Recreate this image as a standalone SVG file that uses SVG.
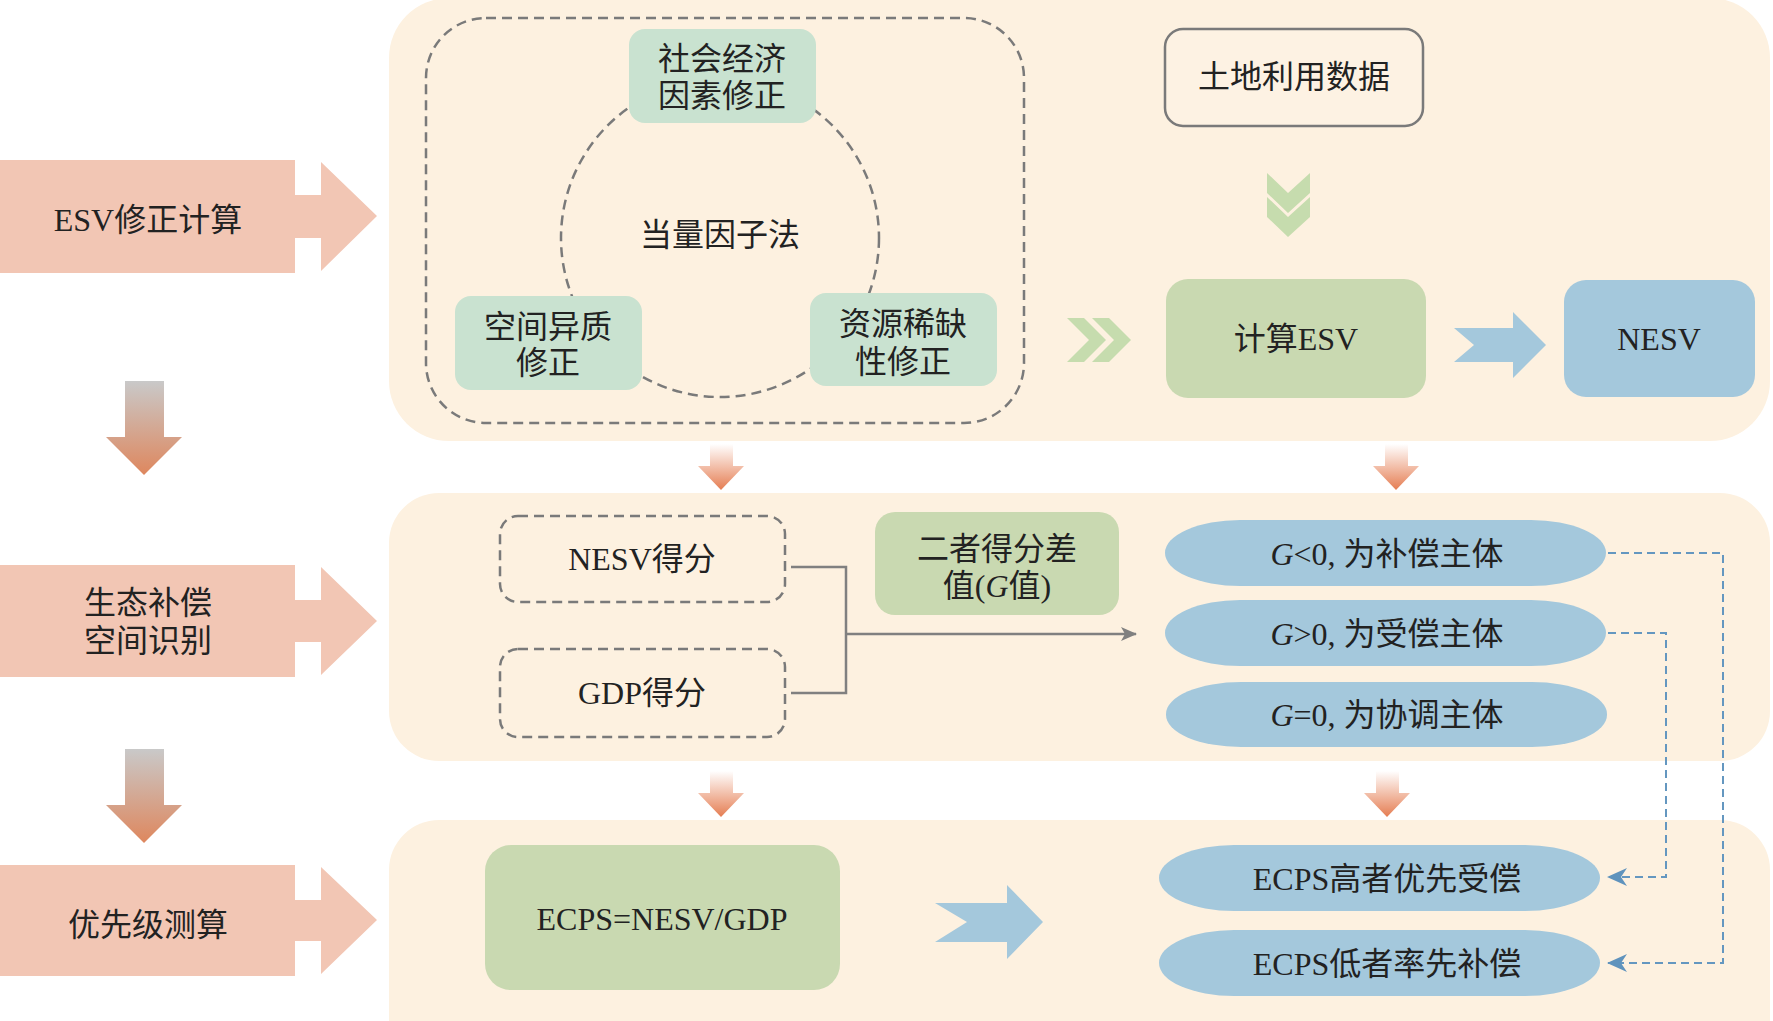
<svg xmlns="http://www.w3.org/2000/svg" width="1773" height="1021" viewBox="0 0 1773 1021">
<style>
text{font-family:"Liberation Serif","Noto Sans CJK SC",serif;font-size:32px;fill:#222;text-anchor:middle}
.panel{fill:#FDF1E0}
.pink{fill:#F2C6B4}
.mint{fill:#C9E2D0}
.sage{fill:#C9D9B1}
.blue{fill:#A4C8DC}
.dash{fill:none;stroke:#7A7A7A;stroke-width:2.5;stroke-dasharray:10 6}
.chev{fill:#C6DCAE}
.gl{fill:none;stroke:#808080;stroke-width:2.5}
.bl{fill:none;stroke:#6497C0;stroke-width:2;stroke-dasharray:8 5}
</style>
<defs>
<linearGradient id="gDown" x1="0" y1="0" x2="0" y2="1">
<stop offset="0" stop-color="#C9C9C9"/>
<stop offset="1" stop-color="#DE875E"/>
</linearGradient>
<linearGradient id="gSmall" x1="0" y1="0" x2="0" y2="1">
<stop offset="0" stop-color="#FFFFFF"/>
<stop offset="1" stop-color="#E57D52"/>
</linearGradient>
<marker id="mGray" viewBox="0 0 16 14" refX="15" refY="7" markerWidth="16" markerHeight="14" markerUnits="userSpaceOnUse" orient="auto">
<path d="M0,0 L16,7 L0,14 L4,7 Z" fill="#808080"/>
</marker>
<marker id="mBlue" viewBox="0 0 20 18" refX="19" refY="9" markerWidth="20" markerHeight="18" markerUnits="userSpaceOnUse" orient="auto">
<path d="M0,0 L20,9 L0,18 L6,9 Z" fill="#5F93BD"/>
</marker>
</defs>

<!-- panels -->
<g id="panel-top"><rect class="panel" x="389" y="-2" width="1381" height="443" rx="60"/></g>
<g id="panel-mid"><rect class="panel" x="389" y="493" width="1381" height="268" rx="50"/></g>
<g id="panel-bot"><rect class="panel" x="389" y="820" width="1381" height="260" rx="50"/></g>

<!-- left stage arrows -->
<g id="stage-esv">
<path class="pink" d="M0,160 H295 V195 H321 V162 L377,216 L321,271 V238 H295 V273 H0 Z"/>
<text x="148" y="231">ESV修正计算</text>
</g>
<g id="stage-space">
<path class="pink" d="M0,565 H295 V600 H321 V567 L377,621 L321,675 V642 H295 V677 H0 Z"/>
<text x="148" y="614">生态补偿</text>
<text x="148" y="652">空间识别</text>
</g>
<g id="stage-priority">
<path class="pink" d="M0,865 H295 V900 H321 V867 L377,920 L321,974 V941 H295 V976 H0 Z"/>
<text x="148" y="936">优先级测算</text>
</g>
<g id="down-left-1"><path fill="url(#gDown)" d="M125,381 H164 V437 H182 L144,475 L106,437 H125 Z"/></g>
<g id="down-left-2"><path fill="url(#gDown)" d="M125,749 H164 V805 H182 L144,843 L106,805 H125 Z"/></g>

<!-- top panel content -->
<g id="method-group">
<rect class="dash" x="426" y="18" width="598" height="405" rx="60"/>
<circle class="dash" cx="720" cy="238" r="159"/>
<text x="720" y="246">当量因子法</text>
</g>
<g id="n-social"><rect class="mint" x="629" y="29" width="187" height="94" rx="16"/>
<text x="722" y="70">社会经济</text><text x="722" y="107">因素修正</text></g>
<g id="n-spatial"><rect class="mint" x="455" y="296" width="187" height="94" rx="16"/>
<text x="548" y="338">空间异质</text><text x="548" y="374">修正</text></g>
<g id="n-scarcity"><rect class="mint" x="810" y="293" width="187" height="93" rx="16"/>
<text x="903" y="335">资源稀缺</text><text x="903" y="373">性修正</text></g>
<g id="n-landuse"><rect x="1165" y="29" width="258" height="97" rx="18" fill="#FDF2E3" stroke="#7A7A7A" stroke-width="2.5"/>
<text x="1294" y="88">土地利用数据</text></g>
<g id="n-calc"><rect class="sage" x="1166" y="279" width="260" height="119" rx="22"/>
<text x="1296" y="350">计算ESV</text></g>
<g id="n-nesv"><rect class="blue" x="1564" y="280" width="191" height="117" rx="22"/>
<text x="1659" y="350">NESV</text></g>

<!-- middle panel content -->
<g id="n-nesv-score"><rect class="dash" x="500" y="516" width="285" height="86" rx="18"/>
<text x="642" y="570">NESV得分</text></g>
<g id="n-gdp-score"><rect class="dash" x="500" y="649" width="285" height="88" rx="18"/>
<text x="642" y="704">GDP得分</text></g>
<g id="n-gvalue"><rect class="sage" x="875" y="512" width="244" height="103" rx="20"/>
<text x="997" y="560">二者得分差</text><text x="997" y="597">值(<tspan font-style="italic">G</tspan>值)</text></g>
<g id="n-g-neg"><rect class="blue" x="1165" y="520" width="441" height="66" rx="75" ry="33"/>
<text x="1387" y="565"><tspan font-style="italic">G</tspan>&lt;0, 为补偿主体</text></g>
<g id="n-g-pos"><rect class="blue" x="1165" y="600" width="441" height="66" rx="75" ry="33"/>
<text x="1387" y="645"><tspan font-style="italic">G</tspan>&gt;0, 为受偿主体</text></g>
<g id="n-g-zero"><rect class="blue" x="1166" y="682" width="441" height="65" rx="75" ry="32"/>
<text x="1387" y="726"><tspan font-style="italic">G</tspan>=0, 为协调主体</text></g>

<!-- bottom panel content -->
<g id="n-ecps"><rect class="sage" x="485" y="845" width="355" height="145" rx="26"/>
<text x="662" y="930">ECPS=NESV/GDP</text></g>
<g id="n-ecps-high"><rect class="blue" x="1159" y="845" width="441" height="66" rx="75" ry="33"/>
<text x="1387" y="890">ECPS高者优先受偿</text></g>
<g id="n-ecps-low"><rect class="blue" x="1159" y="930" width="441" height="66" rx="75" ry="33"/>
<text x="1387" y="975">ECPS低者率先补偿</text></g>

<!-- connectors -->
<g id="connectors">
<polygon class="chev" points="1267,173 1288,193 1310,173 1310,193 1288,213 1267,193"/>
<polygon class="chev" points="1267,197 1288,217 1310,197 1310,217 1288,237 1267,217"/>
<polygon class="chev" points="1067,318 1084,318 1106,340 1084,362 1067,362 1089,340"/>
<polygon class="chev" points="1092,318 1109,318 1131,340 1109,362 1092,362 1114,340"/>
<polygon class="blue" points="1454,328 1513,328 1513,312 1546,345 1513,378 1513,362 1454,362 1474,345"/>
<polygon class="blue" points="935,903 1007,903 1007,885 1043,922 1007,959 1007,942 935,942 967,922"/>
<path fill="url(#gSmall)" d="M710,444 H733 V466 H744 L721,490 L698,466 H710 Z"/>
<path fill="url(#gSmall)" d="M1385,444 H1408 V466 H1419 L1396,490 L1373,466 H1385 Z"/>
<path fill="url(#gSmall)" d="M710,771 H733 V793 H744 L721,817 L698,793 H710 Z"/>
<path fill="url(#gSmall)" d="M1376,771 H1399 V793 H1410 L1387,817 L1364,793 H1376 Z"/>
<path class="gl" d="M791,567 H846 V693 H791"/>
<path class="gl" d="M846,634 H1136" marker-end="url(#mGray)"/>
<path class="bl" d="M1608,553 H1723 V963 H1608" marker-end="url(#mBlue)"/>
<path class="bl" d="M1608,633 H1666 V877 H1608" marker-end="url(#mBlue)"/>
</g>
</svg>
